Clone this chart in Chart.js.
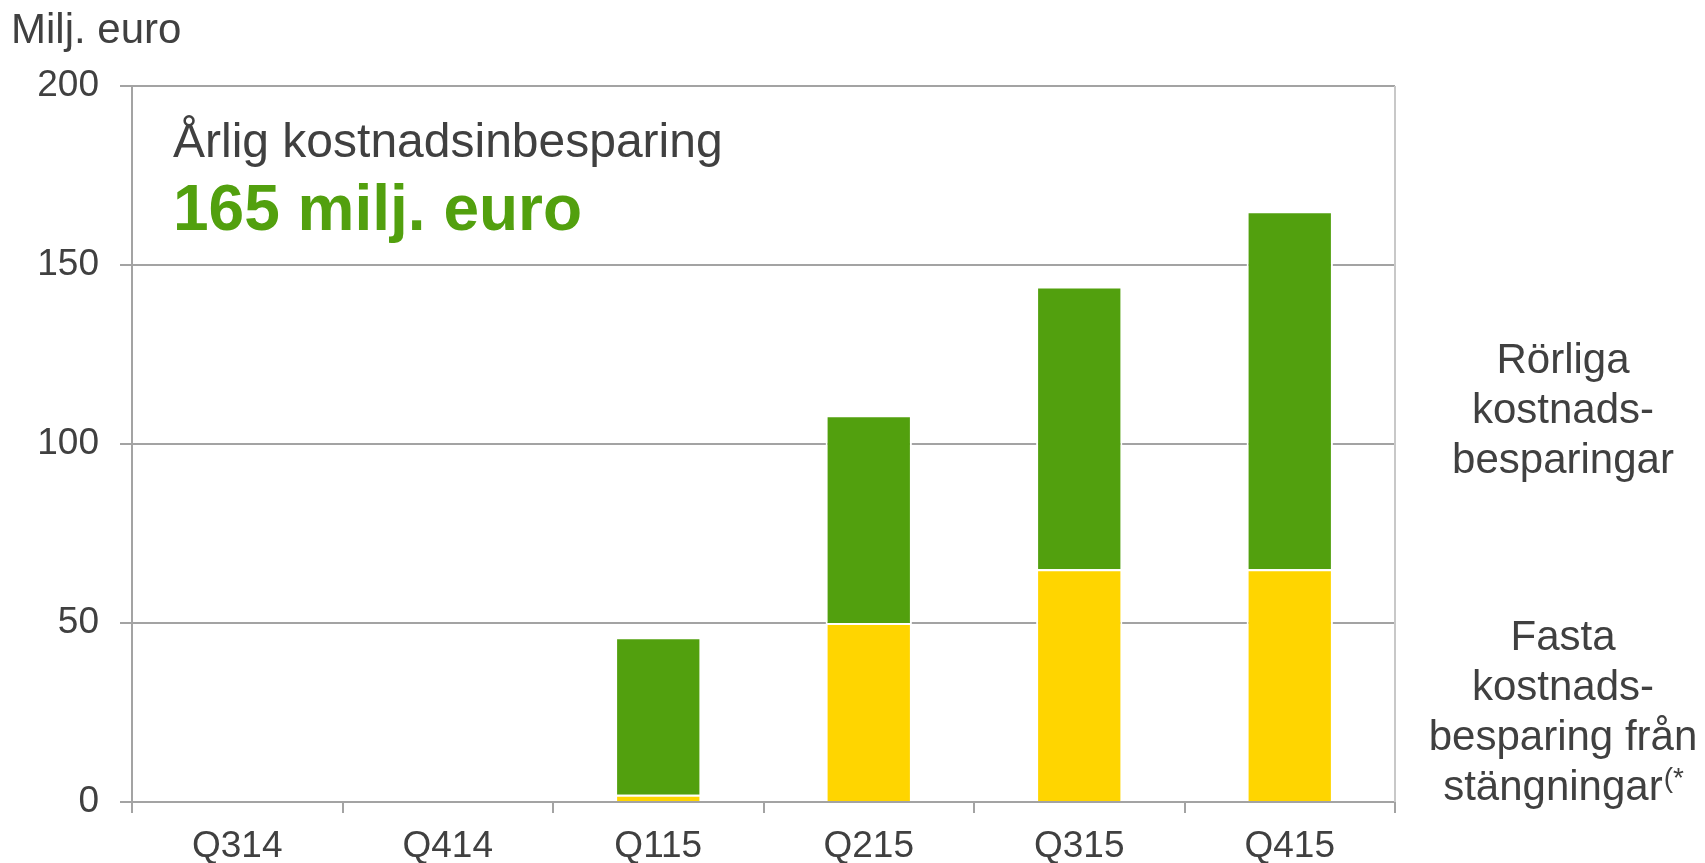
<!DOCTYPE html>
<html>
<head>
<meta charset="utf-8">
<script src="https://cdn.jsdelivr.net/npm/chart.js@4.4.1/dist/chart.umd.min.js"></script>
<style>
  html, body { margin: 0; padding: 0; background: #ffffff; }
  #wrap { width: 1705px; height: 863px; position: relative; }
</style>
</head>
<body>
<div id="wrap"><canvas id="c"></canvas></div>
<script>
const categories = ['Q314', 'Q414', 'Q115', 'Q215', 'Q315', 'Q415'];
const fixedSavings = [null, null, 2, 50, 65, 65];
const variableSavings = [null, null, 44, 58, 79, 100];
const yTicks = [0, 50, 100, 150, 200];
const unitLabel = 'Milj. euro';
const titleLine = 'Årlig kostnadsinbesparing';
const titleValue = '165 milj. euro';
const variableLabel = ['Rörliga', 'kostnads-', 'besparingar'];
const fixedLabel = ['Fasta', 'kostnads-', 'besparing från', 'stängningar'];
const fixedNote = '(*';

const GREEN = '#52a00e';
const YELLOW = '#ffd500';
const TEXT = '#404040';
const GRID = '#a3a3a3';
const FONT = '"Liberation Sans", Arial, sans-serif';

const textPlugin = {
  id: 'texts',
  beforeDatasetsDraw(chart) {
    const ctx = chart.ctx;
    const a = chart.chartArea;
    ctx.save();
    ctx.strokeStyle = '#c8c8c8';
    ctx.lineWidth = 2;
    ctx.beginPath();
    ctx.moveTo(a.right, a.top);
    ctx.lineTo(a.right, a.bottom);
    ctx.stroke();
    ctx.restore();
  },
  afterDraw(chart) {
    const ctx = chart.ctx;
    ctx.save();
    ctx.textBaseline = 'alphabetic';
    ctx.fillStyle = TEXT;
    ctx.textAlign = 'left';
    ctx.font = '42px ' + FONT;
    ctx.fillText(unitLabel, 11, 43);

    ctx.font = '48px ' + FONT;
    ctx.fillText(titleLine, 173, 157);

    ctx.fillStyle = GREEN;
    ctx.font = 'bold 64px ' + FONT;
    ctx.fillText(titleValue, 173, 230);

    ctx.fillStyle = TEXT;
    ctx.font = '42px ' + FONT;
    ctx.textAlign = 'center';
    const cx = 1563;
    variableLabel.forEach((t, i) => ctx.fillText(t, cx, 373 + i * 50));
    fixedLabel.forEach((t, i) => {
      if (i < fixedLabel.length - 1) ctx.fillText(t, cx, 650 + i * 50);
    });
    const last = fixedLabel[fixedLabel.length - 1];
    ctx.textAlign = 'left';
    ctx.font = '42px ' + FONT;
    const w1 = ctx.measureText(last).width;
    ctx.font = '28px ' + FONT;
    const w2 = ctx.measureText(fixedNote).width;
    const x0 = cx - (w1 + w2) / 2;
    ctx.font = '42px ' + FONT;
    ctx.fillText(last, x0, 800);
    ctx.font = '28px ' + FONT;
    ctx.fillText(fixedNote, x0 + w1 + 1, 787);
    ctx.restore();
  }
};

new Chart(document.getElementById('c'), {
  type: 'bar',
  data: {
    labels: categories,
    datasets: [
      {
        label: 'Fasta kostnadsbesparing från stängningar',
        data: fixedSavings,
        backgroundColor: YELLOW,
        borderColor: '#ffffff',
        borderWidth: 2,
        barPercentage: 0.41,
        categoryPercentage: 1.0
      },
      {
        label: 'Rörliga kostnadsbesparingar',
        data: variableSavings,
        backgroundColor: GREEN,
        borderColor: '#ffffff',
        borderWidth: 2,
        barPercentage: 0.41,
        categoryPercentage: 1.0
      }
    ]
  },
  options: {
    responsive: true,
    maintainAspectRatio: false,
    animation: false,
    layout: { padding: { top: 86, right: 310, left: 0, bottom: 0 } },
    plugins: {
      legend: { display: false },
      tooltip: { enabled: false },
      title: { display: false }
    },
    scales: {
      x: {
        stacked: true,
        offset: true,
        grid: { offset: true, drawOnChartArea: false, color: GRID, lineWidth: 2, tickLength: 11 },
        border: { display: true, color: GRID, width: 2 },
        ticks: { color: TEXT, font: { size: 37, family: FONT }, padding: 12, maxRotation: 0 },
        afterFit: s => { s.height = 61; }
      },
      y: {
        stacked: true,
        min: 0,
        max: 200,
        afterBuildTicks: s => { s.ticks = yTicks.map(v => ({ value: v })); },
        grid: { color: GRID, lineWidth: 2, tickLength: 12 },
        border: { display: true, color: GRID, width: 2 },
        ticks: { color: TEXT, font: { size: 37, family: FONT }, padding: 21 },
        afterFit: s => { s.width = 132; }
      }
    }
  },
  plugins: [textPlugin]
});
</script>
</body>
</html>
